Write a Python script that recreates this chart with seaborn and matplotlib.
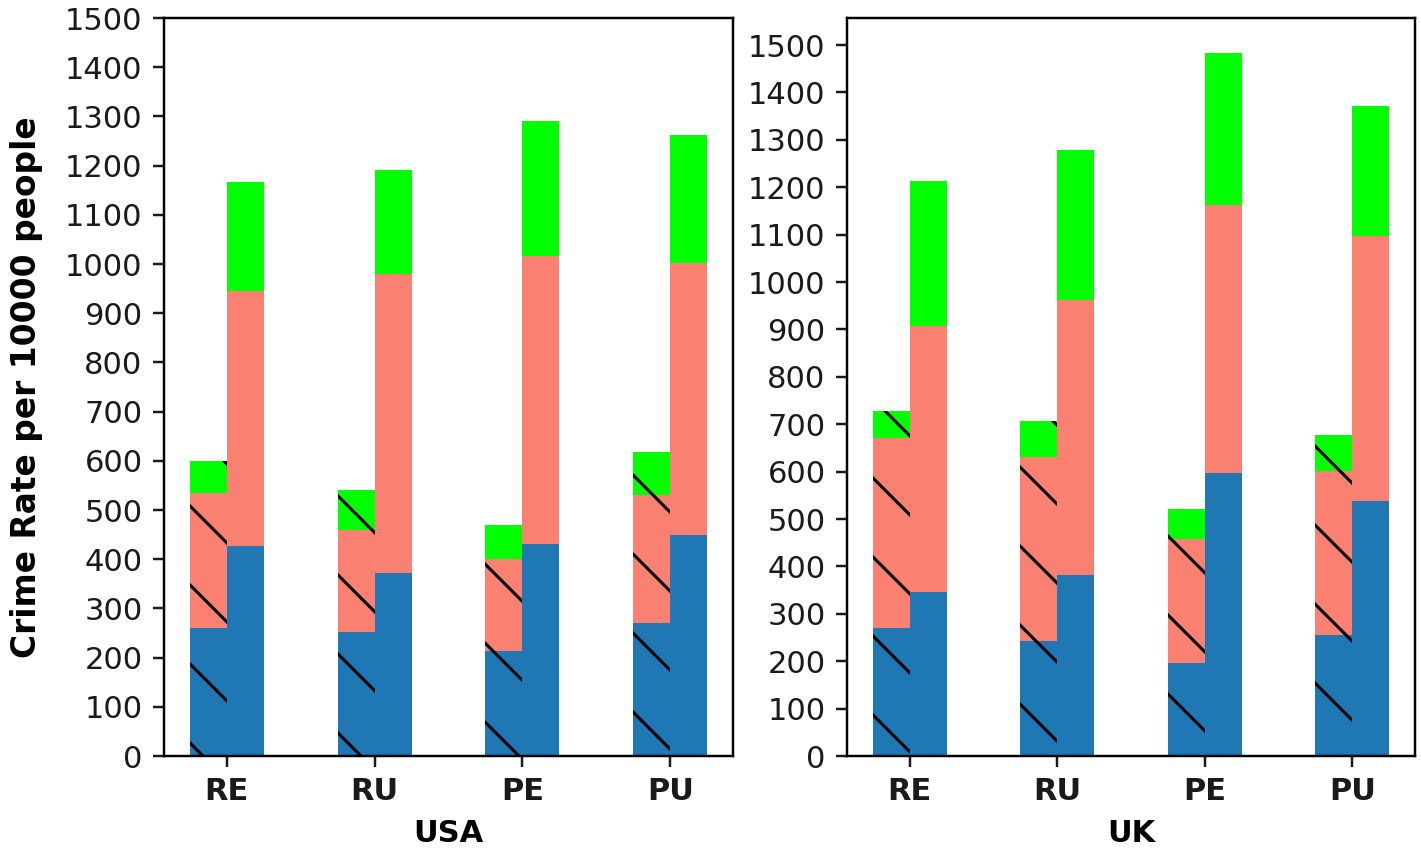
import numpy as np
import pandas as pd
import matplotlib
matplotlib.use("Agg")
import matplotlib.pyplot as plt
import seaborn as sns

# ---------------- data ----------------
categories = ["RE", "RU", "PE", "PU"]
bar_types = ["hatched", "plain"]
panels = ["USA", "UK"]

# segment values (bottom -> top): blue, salmon, green
usa_hatched_blue = [261, 252, 214, 270]
usa_hatched_red = [274, 207, 186, 261]
usa_hatched_green = [64, 82, 69, 86]
usa_plain_blue = [426, 372, 430, 449]
usa_plain_red = [519, 607, 587, 554]
usa_plain_green = [222, 212, 274, 260]

uk_hatched_blue = [270, 242, 197, 256]
uk_hatched_red = [401, 389, 260, 345]
uk_hatched_green = [56, 76, 65, 76]
uk_plain_blue = [346, 382, 597, 537]
uk_plain_red = [561, 581, 565, 560]
uk_plain_green = [306, 315, 321, 275]

ylabel_text = "Crime Rate per 10000 people"
yticks_vals = list(range(0, 1501, 100))

# ---------------- styling ----------------
DPI = 474
s = 2.2 * 100 / DPI  # point-size scale factor
plt.rcParams["hatch.linewidth"] = 1.0 * s
plt.rcParams["font.family"] = ["DejaVu Sans"]

colors = {"blue": "#1f77b4", "red": "salmon", "green": "lime"}


def build_df(hb, hr, hg, pb, pr, pg):
    rows = []
    for i, c in enumerate(categories):
        for t, (b, r, g) in zip(bar_types, [(hb[i], hr[i], hg[i]), (pb[i], pr[i], pg[i])]):
            rows.append({"cat": c, "type": t, "blue": b,
                         "red_top": b + r, "green_top": b + r + g})
    return pd.DataFrame(rows)


dfs = {
    "USA": build_df(usa_hatched_blue, usa_hatched_red, usa_hatched_green,
                    usa_plain_blue, usa_plain_red, usa_plain_green),
    "UK": build_df(uk_hatched_blue, uk_hatched_red, uk_hatched_green,
                   uk_plain_blue, uk_plain_red, uk_plain_green),
}

fig = plt.figure(figsize=(1421 / DPI, 853 / DPI), dpi=DPI)
b = (853 - 756) / 853
h = (756 - 18) / 853
axes = [fig.add_axes([164 / 1421, b, (733 - 164) / 1421, h]),
        fig.add_axes([847 / 1421, b, (1415 - 847) / 1421, h])]

for ax, name in zip(axes, panels):
    df = dfs[name]
    for col, colr in [("green_top", colors["green"]), ("red_top", colors["red"]), ("blue", colors["blue"])]:
        n_before = len(ax.containers)
        sns.barplot(data=df, x="cat", y=col, hue="type", hue_order=bar_types,
                    order=categories, palette=[colr, colr], dodge=True, width=0.5,
                    errorbar=None, legend=False, ax=ax, edgecolor="black",
                    linewidth=0, saturation=1)
        new = ax.containers[n_before:]
        for cont, t in zip(new, bar_types):
            for p in cont:
                p.set_linewidth(0)
                if t == "hatched":
                    p.set_hatch("\\\\")
    ax.set_xlim(-0.425, 3.425)
    ax.set_yticks(yticks_vals)
    ax.set_ylim(bottom=0)
    ax.set_xlabel(name, fontsize=10 * s, fontweight="bold", labelpad=4 * s)
    ax.set_ylabel("")
    for lbl in ax.get_xticklabels():
        lbl.set_fontweight("bold")
    ax.tick_params(axis="both", labelsize=10 * s, length=3.5 * s, width=0.8 * s,
                   pad=3.5 * s, colors="#1a1a1a")
    for sp in ax.spines.values():
        sp.set_linewidth(0.8 * s)
        sp.set_visible(True)

axes[0].set_ylim(0, 1500)
axes[0].set_ylabel(ylabel_text, fontsize=10.8 * s, fontweight="bold", labelpad=3.4)

fig.savefig("out.png", dpi=DPI)
